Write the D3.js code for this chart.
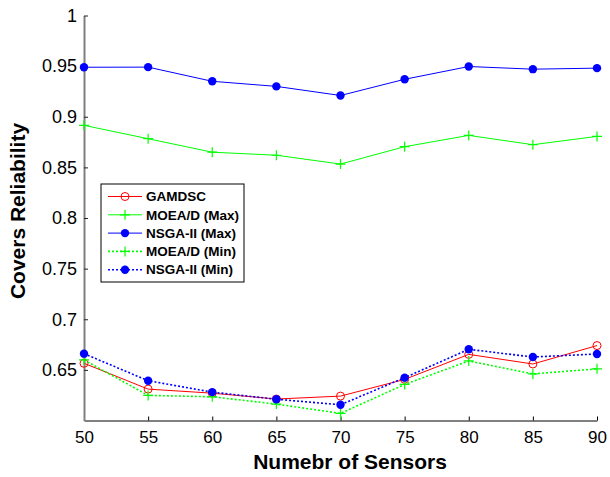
<!DOCTYPE html>
<html>
<head>
<meta charset="utf-8">
<script src="https://cdn.jsdelivr.net/npm/d3@7"></script>
<style>
  body { margin: 0; background: #fff; }
  svg { font-family: "Liberation Sans", Arial, sans-serif; }
</style>
</head>
<body>
<svg width="610" height="477"></svg>
<script>
// data
const sensors = [50, 55, 60, 65, 70, 75, 80, 85, 90]
const gamdsc = [0.6565, 0.631, 0.627, 0.6212, 0.6241, 0.6406, 0.6653, 0.6558, 0.674]
const moeaMax = [0.8915, 0.8783, 0.865, 0.862, 0.8533, 0.8704, 0.8816, 0.8724, 0.8806]
const nsgaMax = [0.9489, 0.949, 0.935, 0.930, 0.921, 0.937, 0.9496, 0.947, 0.948]
const moeaMin = [0.6598, 0.6248, 0.6234, 0.6162, 0.607, 0.6356, 0.6588, 0.646, 0.651]
const nsgaMin = [0.666, 0.6393, 0.628, 0.621, 0.6155, 0.6423, 0.6703, 0.6627, 0.6657]
const yTicks = [0.65, 0.7, 0.75, 0.8, 0.85, 0.9, 0.95, 1]

const series = [
  { name: 'GAMDSC', values: gamdsc, color: '#ff0000', dash: null, marker: 'circle' },
  { name: 'MOEA/D (Max)', values: moeaMax, color: '#00ff00', dash: null, marker: 'plus' },
  { name: 'NSGA-II (Max)', values: nsgaMax, color: '#0000ff', dash: null, marker: 'dot' },
  { name: 'MOEA/D (Min)', values: moeaMin, color: '#00ff00', dash: '2,2', marker: 'plus' },
  { name: 'NSGA-II (Min)', values: nsgaMin, color: '#0000ff', dash: '2,2', marker: 'dot' }
]

const M = { top: 15.5, right: 13, bottom: 56.5, left: 84 }
const W = 610 - M.left - M.right
const H = 477 - M.top - M.bottom

const x = d3.scaleLinear().domain([50, 90]).range([0, W])
const y = d3.scaleLinear().domain([0.6, 1]).range([H, 0])

const svg = d3.select('svg')
const chart = svg.append('g').attr('transform', `translate(${M.left},${M.top})`)

// x axis (ticks pointing inward)
const xAxis = chart.append('g')
  .attr('transform', `translate(0,${H})`)
  .call(d3.axisBottom(x).tickValues(sensors).tickSize(-4).tickPadding(10).tickSizeOuter(0))
xAxis.select('.domain').attr('stroke', '#000').attr('stroke-width', 1)
xAxis.selectAll('.tick line').attr('stroke', '#000')
xAxis.selectAll('text').attr('font-size', 17).attr('fill', '#000')

// y axis
const yAxis = chart.append('g')
  .call(d3.axisLeft(y).tickValues(yTicks).tickSize(-4).tickPadding(7).tickSizeOuter(0))
yAxis.select('.domain').attr('stroke', '#808080').attr('stroke-width', 2)
yAxis.selectAll('.tick line').attr('stroke', '#222')
yAxis.selectAll('text').attr('font-size', 18).attr('fill', '#000')
  .text(d => d === 1 ? '1' : String(d))

const line = d3.line()
  .x((d, i) => x(sensors[i]))
  .y(d => y(d))

function drawMarker(sel, type, color) {
  if (type === 'circle') {
    sel.append('circle').attr('r', 4).attr('fill', 'none')
      .attr('stroke', color).attr('stroke-width', 1)
  } else if (type === 'dot') {
    sel.append('circle').attr('r', 4.2).attr('fill', color)
  } else {
    sel.append('path').attr('d', 'M-5,0H5M0,-5V5')
      .attr('stroke', color).attr('stroke-width', 1.2)
  }
}

series.forEach(s => {
  chart.append('path')
    .datum(s.values)
    .attr('d', line)
    .attr('fill', 'none')
    .attr('stroke', s.color)
    .attr('stroke-width', s.dash ? 1.6 : 1)
    .attr('stroke-dasharray', s.dash)

  chart.selectAll(null)
    .data(s.values)
    .enter()
    .append('g')
    .attr('transform', (d, i) => `translate(${x(sensors[i])},${y(d)})`)
    .each(function() { drawMarker(d3.select(this), s.marker, s.color) })
})

// axis titles
svg.append('text')
  .attr('x', 350).attr('y', 469)
  .attr('text-anchor', 'middle')
  .attr('font-size', 21).attr('font-weight', 'bold')
  .text('Numebr of Sensors')

svg.append('text')
  .attr('transform', 'translate(25,211) rotate(-90)')
  .attr('text-anchor', 'middle')
  .attr('font-size', 21).attr('font-weight', 'bold')
  .text('Covers Reliability')

// legend
const legend = svg.append('g').attr('transform', 'translate(101,184)')
legend.append('rect')
  .attr('width', 143).attr('height', 98)
  .attr('fill', '#fff').attr('stroke', '#000').attr('stroke-width', 1)

series.forEach((s, i) => {
  const row = legend.append('g').attr('transform', `translate(0,${12.5 + i * 18.3})`)
  row.append('line')
    .attr('x1', 7).attr('x2', 41)
    .attr('stroke', s.color)
    .attr('stroke-width', s.dash ? 1.6 : 1)
    .attr('stroke-dasharray', s.dash)
  const m = row.append('g').attr('transform', 'translate(24,0)')
  drawMarker(m, s.marker, s.color)
  row.append('text')
    .attr('x', 45).attr('dy', '0.35em')
    .attr('font-size', 13.5).attr('font-weight', 'bold')
    .text(s.name)
})
</script>
</body>
</html>
